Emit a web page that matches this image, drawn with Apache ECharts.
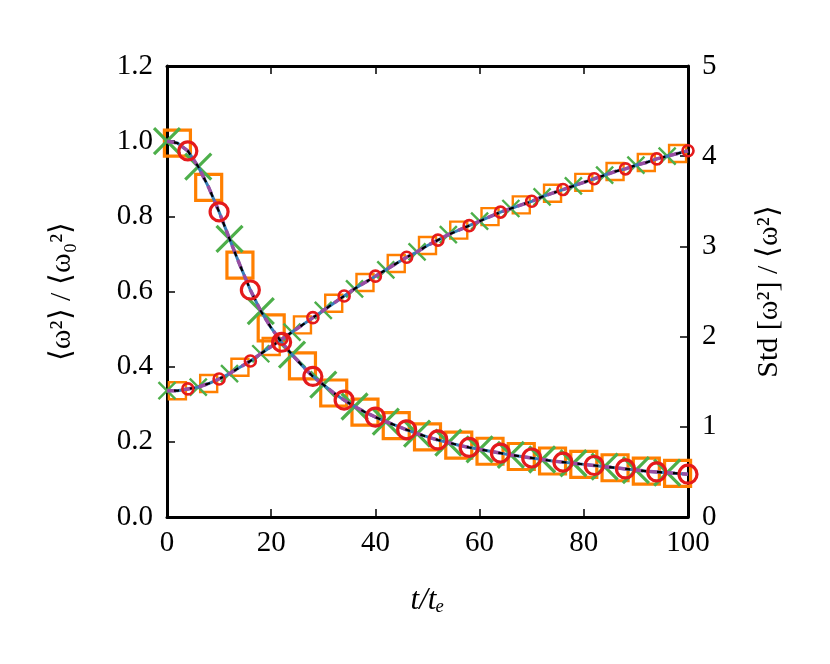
<!DOCTYPE html>
<html>
<head>
<meta charset="utf-8">
<script src="https://cdn.jsdelivr.net/npm/echarts@6/dist/echarts.min.js"></script>
<style>html,body{margin:0;padding:0;background:#fff;}#c{width:830px;height:664px;}</style>
</head>
<body>
<div id="c"></div>
<script>
var tValues = [0,2,4,6,8,10,12,14,16,18,20,22,24,26,28,30,32,34,36,38,40,42,44,46,48,50,52,54,56,58,60,62,64,66,68,70,72,74,76,78,80,82,84,86,88,90,92,94,96,98,100];
var meanRatio = [1.000,0.995,0.974,0.932,0.877,0.812,0.740,0.670,0.604,0.548,0.503,0.465,0.432,0.402,0.374,0.352,0.330,0.311,0.294,0.279,0.266,0.254,0.243,0.232,0.222,0.213,0.205,0.198,0.191,0.185,0.180,0.175,0.170,0.165,0.161,0.157,0.153,0.149,0.146,0.143,0.140,0.137,0.134,0.131,0.128,0.125,0.122,0.120,0.118,0.116,0.114];
var stdRatio = [1.40,1.40,1.42,1.44,1.48,1.53,1.59,1.66,1.73,1.81,1.89,1.97,2.05,2.13,2.21,2.29,2.37,2.45,2.53,2.60,2.67,2.74,2.81,2.88,2.94,3.01,3.07,3.13,3.18,3.23,3.28,3.33,3.38,3.42,3.46,3.50,3.55,3.59,3.63,3.67,3.71,3.75,3.79,3.83,3.86,3.90,3.93,3.97,4.00,4.03,4.06];
var xTicks = [0,20,40,60,80,100];
var leftTicks = [0.0,0.2,0.4,0.6,0.8,1.0,1.2];
var rightTicks = [0,1,2,3,4,5];

var FONT = 'Liberation Serif';
function pairs(ys){ return tValues.map(function(t,i){return [t, ys[i]];}); }
function every(ys, off){ return pairs(ys).filter(function(p,i){return i % 3 === off;}); }

var C = {black:'#000000', blue:'#377eb8', purple:'#984ea3', orange:'#ff7f00', green:'#4daf4a', red:'#e41a1c'};
var XPATH = 'path://M0,0L10,10M10,0L0,10';

function lineSet(ys, yIdx){
  return [
    {type:'line', yAxisIndex:yIdx, data:pairs(ys), symbol:'none', lineStyle:{color:C.blue, width:3, opacity:1}, z:3, silent:true},
    {type:'line', yAxisIndex:yIdx, data:pairs(ys), symbol:'none', lineStyle:{color:C.purple, width:3.5, type:[9,7], opacity:1}, z:4, silent:true},
    {type:'line', yAxisIndex:yIdx, data:pairs(ys), symbol:'none', lineStyle:{color:C.black, width:2.2, type:[5,11], dashOffset:9, opacity:1}, z:5, silent:true}
  ];
}
function markerSet(ys, yIdx, big){
  var sq = big?26:17, xs = big?26:17, ci = big?18:11;
  return [
    {type:'scatter', yAxisIndex:yIdx, data:every(ys,1), symbol:'rect', symbolSize:sq, itemStyle:{color:'rgba(0,0,0,0)', borderColor:C.orange, borderWidth:big?3.2:2.4, opacity:1}, z:2, silent:true},
    {type:'scatter', yAxisIndex:yIdx, data:every(ys,0), symbol:XPATH, symbolSize:xs, itemStyle:{color:'rgba(0,0,0,0)', borderColor:C.green, borderWidth:big?3.2:2.4, opacity:1}, z:2, silent:true},
    {type:'scatter', yAxisIndex:yIdx, data:every(ys,2), symbol:'circle', symbolSize:ci, itemStyle:{color:'rgba(0,0,0,0)', borderColor:C.red, borderWidth:big?3.2:2.6, opacity:1}, z:6, silent:true}
  ];
}

var labelStyle = {fontFamily:FONT, fontSize:29, color:'#000'};
var series = [].concat(markerSet(meanRatio,0,true), lineSet(meanRatio,0), markerSet(stdRatio,1,false), lineSet(stdRatio,1));

var chart = echarts.init(document.getElementById('c'), null, {renderer:'canvas'});
chart.setOption({
  animation:false,
  backgroundColor:'#fff',
  grid:{left:167, right:142, top:66, bottom:147, show:false},
  xAxis:[
    {type:'value', min:0, max:100, interval:20, position:'bottom',
     name:'t/tₑ', nameLocation:'middle', nameGap:68,
     nameTextStyle:{fontFamily:FONT, fontSize:31, fontStyle:'italic', color:'#000'},
     axisLine:{show:true, onZero:false, lineStyle:{color:'#000', width:3}},
     axisTick:{show:true, inside:true, length:8, lineStyle:{color:'#000', width:1.5}},
     axisLabel:Object.assign({margin:12, formatter:function(v){return xTicks.indexOf(v)>=0?String(v):'';}}, labelStyle),
     splitLine:{show:false}},
    {type:'value', min:0, max:100, interval:20, position:'top',
     axisLine:{show:true, onZero:false, lineStyle:{color:'#000', width:3}},
     axisTick:{show:true, inside:true, length:8, lineStyle:{color:'#000', width:1.5}},
     axisLabel:{show:false}, splitLine:{show:false}}
  ],
  yAxis:[
    {type:'value', min:0, max:1.2, interval:0.2, position:'left',
     name:'⟨ω²⟩ / ⟨ω₀²⟩', nameLocation:'middle', nameGap:90, nameRotate:90,
     nameTextStyle:{fontFamily:FONT, fontSize:30, color:'#000'},
     axisLine:{show:true, onZero:false, lineStyle:{color:'#000', width:3}},
     axisTick:{show:true, inside:true, length:8, lineStyle:{color:'#000', width:1.5}},
     axisLabel:Object.assign({margin:14, formatter:function(v){return v.toFixed(1);}}, labelStyle),
     splitLine:{show:false}},
    {type:'value', min:0, max:5, interval:1, position:'right',
     name:'Std [ω²] / ⟨ω²⟩', nameLocation:'middle', nameGap:66, nameRotate:90,
     nameTextStyle:{fontFamily:FONT, fontSize:30, color:'#000'},
     axisLine:{show:true, onZero:false, lineStyle:{color:'#000', width:3}},
     axisTick:{show:true, inside:true, length:8, lineStyle:{color:'#000', width:1.5}},
     axisLabel:Object.assign({margin:14, formatter:function(v){return rightTicks.indexOf(v)>=0?String(v):'';}}, labelStyle),
     splitLine:{show:false}}
  ],
  series: series
});
</script>
</body>
</html>
